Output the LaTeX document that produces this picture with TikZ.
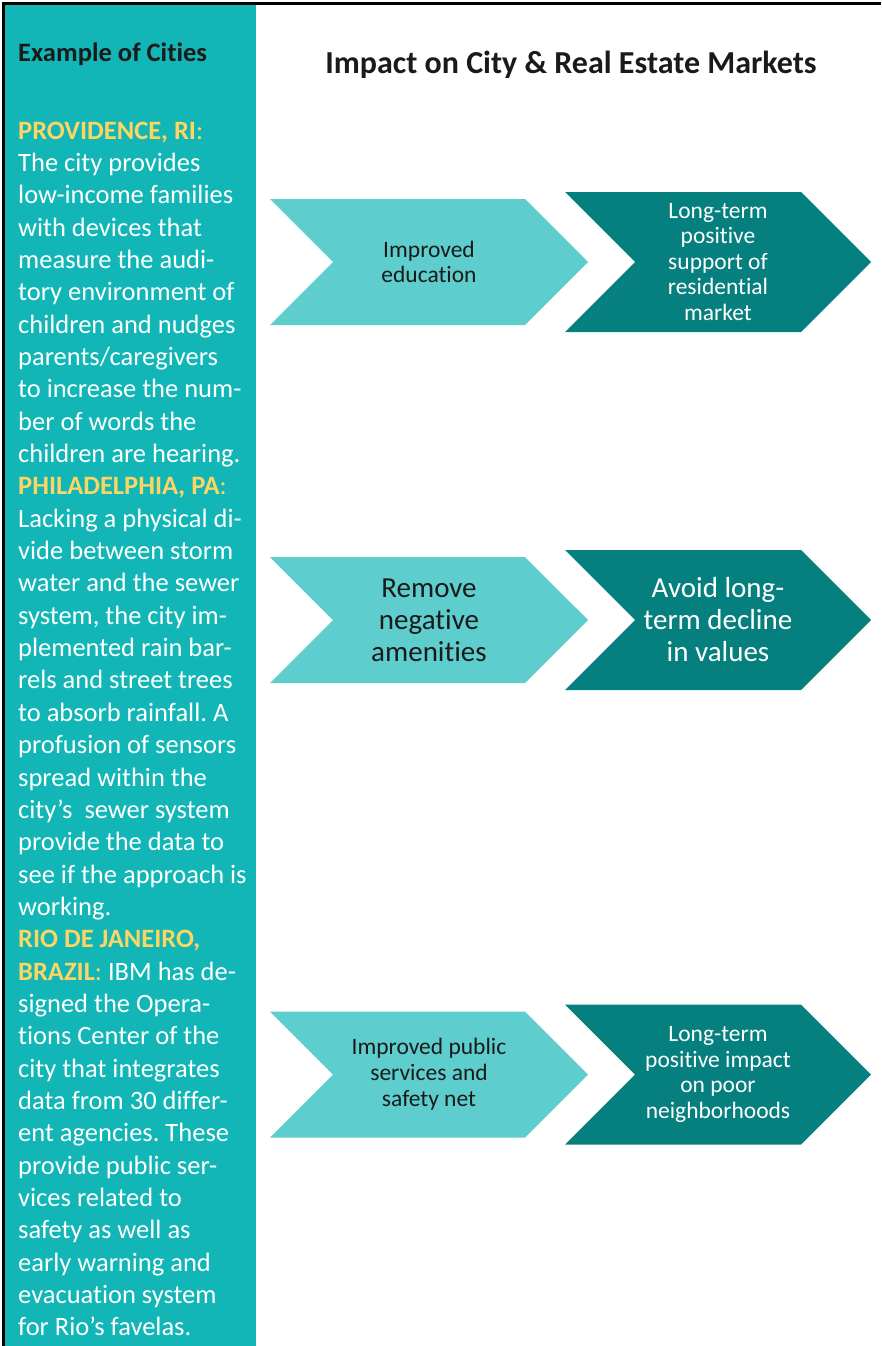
\documentclass[tikz,border=0pt]{standalone}
\usepackage{fontspec}
\setmainfont{Carlito}[Ligatures=NoCommon]
\usetikzlibrary{shapes.symbols}

\definecolor{colteal}{HTML}{12B6B6}
\definecolor{chevlight}{HTML}{5ECDCD}
\definecolor{chevdark}{HTML}{06807E}
\definecolor{cityyellow}{HTML}{FDD562}
\definecolor{headtext}{HTML}{1A1A1A}

\newcommand{\cityname}[1]{\textcolor{cityyellow}{\bfseries #1}\textcolor{cityyellow}{:}}

\begin{document}
\frenchspacing
\begin{tikzpicture}[x=1pt,y=-1pt]
    \useasboundingbox (0,0) rectangle (881,1346);

    % left column and frame
    \fill[colteal] (4,4) rectangle (256,1346);
    \draw[line width=2.5pt] (3.5,1346) -- (3.5,3.5) -- (881,3.5);

    % headings
    \node[anchor=base west, inner sep=0pt, text=headtext, font=\fontsize{26.6}{32}\selectfont\bfseries] (cityhead) at (18,62) {Example of Cities};
    \node[anchor=base, inner sep=0pt, text=headtext, font=\fontsize{32}{38}\selectfont\bfseries] (impacthead) at (571,74) {Impact on City \& Real Estate Markets};

    % city examples
    \node[anchor=base west, inner sep=0pt, text width=245pt, align=left, text=white,
          font=\fontsize{26.5}{32.35}\selectfont] (cities) at (18,139) {%
        \spaceskip=0pt\xspaceskip=0pt
        \cityname{PROVIDENCE, RI}\\
        The city provides\\
        low-income families\\
        with devices that\\
        measure the audi-\\
        tory environment of\\
        children and nudges\\
        parents/caregivers\\
        to increase the num-\\
        ber of words the\\
        children are hearing.\\
        \cityname{PHILADELPHIA, PA}\\
        Lacking a physical di-\\
        vide between storm\\
        water and the sewer\\
        system, the city im-\\
        plemented rain bar-\\
        rels and street trees\\
        to absorb rainfall. A\\
        profusion of sensors\\
        spread within the\\
        city’s\ \ sewer system\\
        provide the data to\\
        see if the approach is\\
        working.\\
        \textcolor{cityyellow}{\bfseries RIO DE JANEIRO,}\\
        \cityname{BRAZIL} IBM has de-\\
        signed the Opera-\\
        tions Center of the\\
        city that integrates\\
        data from 30 differ-\\
        ent agencies. These\\
        provide public ser-\\
        vices related to\\
        safety as well as\\
        early warning and\\
        evacuation system\\
        for Rio’s favelas.};

    % causes
    \begin{scope}[every node/.style={signal, signal from=west, signal to=east, signal pointer angle=90,
                  fill=chevlight, text=headtext, align=center, inner sep=0pt,
                  minimum width=318pt, minimum height=126pt}]
        \node[font=\fontsize{23.5}{25.8}\selectfont] (edu) at (429,262) {Improved\\education};
        \node[font=\fontsize{29}{32}\selectfont] (neg) at (429,620) {Remove\\negative\\amenities};
        \node[font=\fontsize{23.5}{25.8}\selectfont] (pub) at (429,1074.5) {Improved public\\services and\\safety net};
    \end{scope}

    % impacts
    \begin{scope}[every node/.style={signal, signal from=west, signal to=east, signal pointer angle=90,
                  fill=chevdark, text=white, align=center, inner sep=0pt,
                  minimum width=306pt, minimum height=140pt}]
        \node[font=\fontsize{23.5}{25.5}\selectfont] (res) at (718,262) {Long-term\\positive\\support of\\residential\\market};
        \node[font=\fontsize{29}{32}\selectfont] (decl) at (718,620) {Avoid long-\\term decline\\in values};
        \node[font=\fontsize{23.5}{25.5}\selectfont] (poor) at (718,1074.5) {Long-term\\positive impact\\on poor\\neighborhoods};
    \end{scope}
\end{tikzpicture}
\end{document}
